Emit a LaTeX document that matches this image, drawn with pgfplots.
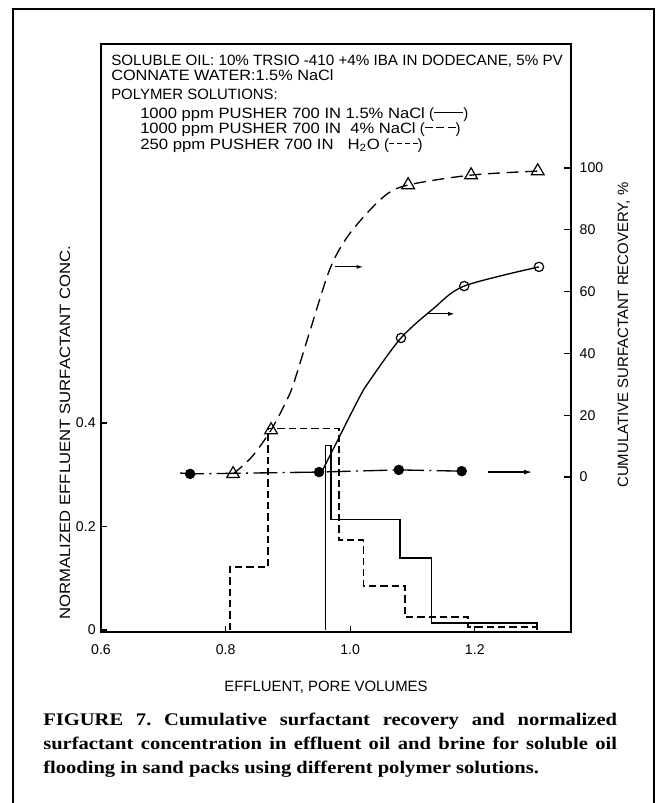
\documentclass[border=0pt]{standalone}
\usepackage{pgfplots}
\pgfplotsset{compat=1.18}
\usepackage{fontspec}
\setmainfont{Liberation Serif}
\setsansfont{Liberation Sans}
\usetikzlibrary{arrows.meta}
\frenchspacing
\newcommand\lab{\fontsize{11.2}{13}\selectfont\sffamily}
\newcommand\tlab{\fontsize{10.6}{12}\selectfont\sffamily}
\newcommand\capf{\fontsize{13.3}{18}\selectfont\rmfamily\bfseries}
\newcommand\dsh[3]{\raisebox{0.32em}{\foreach \i in {1,...,#1}{\rule{#2}{0.9pt}\ifnum\i<#1\hspace{#3}\fi}}}
\begin{document}
\begin{tikzpicture}
\useasboundingbox (0,0) rectangle (492pt,-602.25pt);
\begin{scope}[x=0.75pt,y=-0.75pt]
\draw[line width=2pt] (13,803) -- (13,9) -- (654,9) -- (654,803);
\end{scope}

% left axis: normalized concentration
\begin{axis}[at={(75.75pt,-474pt)}, anchor=south west, scale only axis,
  width=352.5pt, height=441pt,
  xmin=0.6, xmax=1.3544, ymin=-0.0039, ymax=1.1324,
  axis line style={line width=1.5pt},
  xtick={0.6,0.8,1.0,1.2}, xticklabels={0.6,0.8,1.0,1.2},
  ytick={0,0.2,0.4}, yticklabels={0,0.2,0.4},
  xtick pos=bottom, ytick pos=left, tick align=inside,
  major tick length=4.5pt, tick style={line width=1pt, black},
  ticklabel style={font=\tlab},
  xticklabel style={yshift=-6pt},
  yticklabel style={xshift=-0.5pt},
  clip=false]
\addplot[black, line width=1pt] coordinates {(0.960,0) (0.960,0.356) (0.969,0.356) (0.969,0.213) (1.080,0.213) (1.080,0.139) (1.130,0.139) (1.130,0.0135) (1.300,0.0135) (1.300,0)};
\addplot[black, line width=1pt, dash pattern=on 5.5pt off 3pt] coordinates {(0.807,0) (0.807,0.122) (0.868,0.122) (0.868,0.39) (0.982,0.39) (0.982,0.174) (1.021,0.174) (1.021,0.085) (1.088,0.085) (1.088,0.025) (1.189,0.025) (1.189,0.006) (1.300,0.006) (1.300,0)};
\end{axis}

% right axis: cumulative recovery
\begin{axis}[at={(75.75pt,-474pt)}, anchor=south west, scale only axis,
  width=352.5pt, height=441pt,
  xmin=0.6, xmax=1.3544, ymin=-50.16, ymax=140.13,
  axis x line=none, axis y line*=right,
  axis line style={line width=1.5pt},
  ytick={0,20,40,60,80,100}, yticklabels={0,20,40,60,80,100},
  tick align=inside, major tick length=5pt, tick style={line width=1pt, black},
  ticklabel style={font=\tlab},
  yticklabel style={xshift=3pt},
  clip=false]
% dashed curve (triangles)
\addplot[black, line width=1pt, dash pattern=on 9pt off 5pt, smooth, tension=0.5] coordinates {(0.812,1.0) (0.842,6.5) (0.873,15.2) (0.900,25.6) (0.911,31.4) (0.935,47) (0.968,67.6) (1.000,79) (1.053,90.6) (1.093,94.5) (1.194,97.7) (1.301,99.0)};
\addplot[only marks, mark=triangle, mark size=5.5pt, mark options={fill=white, line width=0.9pt}] coordinates {(0.812,1.0) (0.873,15.2) (1.093,94.5) (1.194,97.7) (1.301,99.0)};
% solid curve (circles)
\addplot[black, line width=1pt, smooth, tension=0.5] coordinates {(0.956,2.3) (1.0125,24.9) (1.032,31.4) (1.0815,45) (1.133,54.4) (1.183,61.8) (1.303,68)};
\addplot[only marks, mark=o, mark size=3.5pt, mark options={fill=white, line width=0.9pt}] coordinates {(1.0815,45) (1.183,61.8) (1.303,68)};
% dash-dot line (filled circles)
\addplot[black, line width=1pt, dash pattern=on 18pt off 4pt on 1.5pt off 4pt] coordinates {(0.727,1.3) (0.743,1.0) (0.950,1.6) (1.078,2.3) (1.179,1.9)};
\addplot[only marks, mark=*, mark size=3.7pt, mark options={fill=black}] coordinates {(0.743,1.0) (0.950,1.6) (1.078,2.3) (1.179,1.9)};
\draw[-{Latex[length=6pt,width=3.5pt]}, line width=0.9pt] (axis cs:1.221,1.6) -- (axis cs:1.292,1.6);
\draw[-{Latex[length=5pt,width=3pt]}, line width=0.9pt] (axis cs:0.976,68) -- (axis cs:1.021,68);
\draw[-{Latex[length=5pt,width=3pt]}, line width=0.9pt] (axis cs:1.125,52.8) -- (axis cs:1.168,52.8);
\end{axis}

\begin{scope}[x=0.75pt,y=-0.75pt, every node/.style={inner sep=0pt, font=\lab}]
% header text
\node[anchor=base west] at (111,65) {\scalebox{1.018}[1]{SOLUBLE OIL: 10\% TRSIO -410 +4\% IBA IN DODECANE, 5\% PV}};
\node[anchor=base west] at (111,80) {\scalebox{1.09}[1]{CONNATE WATER:1.5\% NaCl}};
\node[anchor=base west] at (111,99) {POLYMER SOLUTIONS:};
\node[anchor=base west] at (140,118) {\scalebox{1.11}[1]{1000 ppm PUSHER 700 IN 1.5\% NaCl} (\raisebox{0.32em}{\rule{22pt}{0.9pt}})};
\node[anchor=base west] at (140,133) {\scalebox{1.11}[1]{1000 ppm PUSHER 700 IN \ 4\% NaCl} (\dsh{3}{6pt}{2.5pt})};
\node[anchor=base west] at (140,149) {\scalebox{1.12}[1]{250 ppm PUSHER 700 IN \ \ H\textsubscript{2}O} (\dsh{4}{3.5pt}{2.5pt})};
% axis labels
\node[anchor=base west, rotate=90] at (70,620) {\scalebox{1.12}[1]{NORMALIZED EFFLUENT SURFACTANT CONC.}};
\node[anchor=base west, rotate=90] at (628,488) {CUMULATIVE SURFACTANT RECOVERY, \%};
\node[anchor=base] at (326,691) {EFFLUENT, PORE VOLUMES};
% caption
\node[anchor=base west, font=\capf] at (43,725) {\scalebox{1.16}[1]{\makebox[371pt][s]{FIGURE 7. Cumulative surfactant recovery and normalized}}};
\node[anchor=base west, font=\capf] at (43,749) {\scalebox{1.16}[1]{\makebox[371pt][s]{surfactant concentration in effluent oil and brine for soluble oil}}};
\node[anchor=base west, font=\capf] at (43,773) {\scalebox{1.16}[1]{flooding in sand packs using different polymer solutions.}};
\end{scope}
\end{tikzpicture}
\end{document}
